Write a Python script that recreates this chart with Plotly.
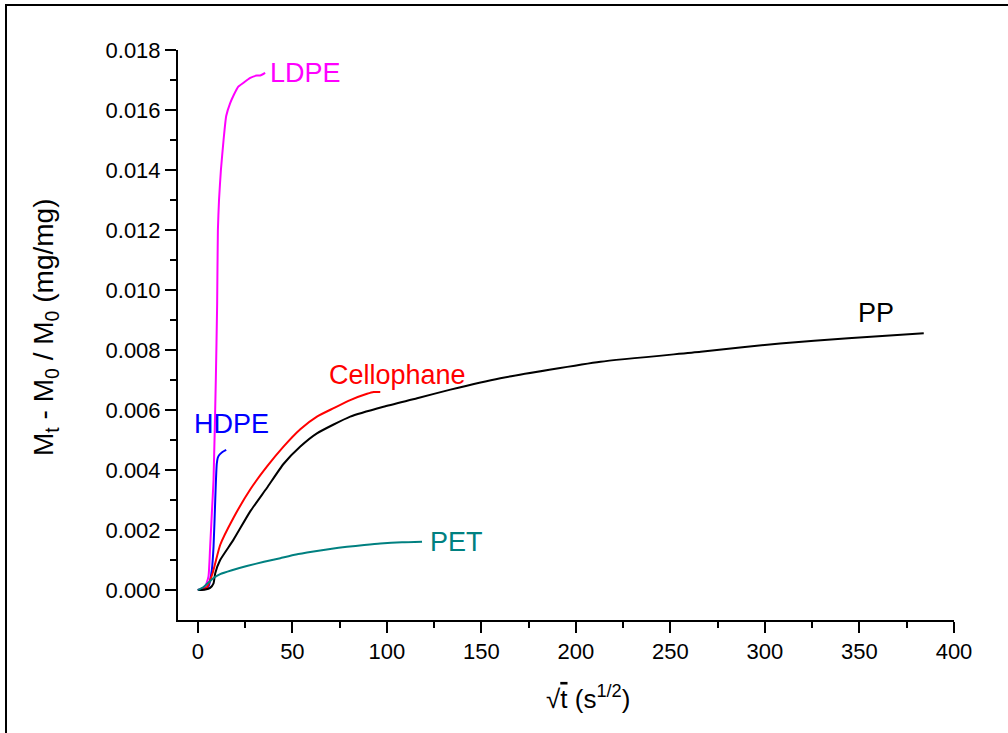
import plotly.graph_objects as go

# ---- data ----
ldpe_x = [0, 2, 3.9, 5.6, 6.5, 7.4, 8.3, 9.5, 10.2, 10.6, 11.2, 12.2, 13.6, 15, 17.1, 19, 21.3, 24, 27.7, 31.2, 33, 35.6]
ldpe_y = [0, 0.00003, 0.00011, 0.00044, 0.00144, 0.00256, 0.00367, 0.0070, 0.0095, 0.0120, 0.0130, 0.0140, 0.0150, 0.0158, 0.01623, 0.0165, 0.01677, 0.0169, 0.01707, 0.01715, 0.01715, 0.01724]

hdpe_x = [0, 3, 5.6, 7.4, 8.3, 9.2, 9.6, 10, 10.5, 11.3, 13, 15]
hdpe_y = [0, 0.00003, 0.00011, 0.00067, 0.00144, 0.0030, 0.0037, 0.0042, 0.0044, 0.0045, 0.0046, 0.00467]

cello_x = [0, 3, 5, 6.5, 8, 9.2, 11.8, 18.8, 27.7, 36.5, 45.3, 54.2, 63, 71.8, 80.6, 89.5, 93, 96.5]
cello_y = [0, 0.00003, 0.0001, 0.00033, 0.0006, 0.00089, 0.0015, 0.0024, 0.00335, 0.00411, 0.00478, 0.00536, 0.00578, 0.00606, 0.00633, 0.00654, 0.0066, 0.0066]

pp_x = [0, 4, 6.5, 8.3, 9.2, 11.8, 18.8, 27.7, 36.5, 45.3, 54.2, 63, 80.6, 98.2, 116, 133.6, 160, 213, 266, 308, 344, 384]
pp_y = [0, 0.00002, 0.00007, 0.00022, 0.00056, 0.0010, 0.00167, 0.00262, 0.0034, 0.0042, 0.00478, 0.00522, 0.00578, 0.00611, 0.00639, 0.00668, 0.00706, 0.00761, 0.00794, 0.00822, 0.00839, 0.00856]

pet_x = [0, 3, 6.5, 8.3, 11.8, 18, 25.9, 35, 43.6, 52, 61.2, 70, 78.9, 88, 96.5, 108, 118.6]
pet_y = [0, 0.0001, 0.0003, 0.0004, 0.00053, 0.00066, 0.0008, 0.00094, 0.00106, 0.00118, 0.00128, 0.00137, 0.00144, 0.0015, 0.00155, 0.00159, 0.00161]

labels = ["LDPE", "HDPE", "Cellophane", "PP", "PET"]
label_x = [57, 17.7, 105.6, 359, 136.8]
label_y = [0.01723, 0.00553, 0.00717, 0.00923, 0.0016]

x_ticks = [0, 50, 100, 150, 200, 250, 300, 350, 400]
y_ticks = [0.000, 0.002, 0.004, 0.006, 0.008, 0.010, 0.012, 0.014, 0.016, 0.018]

FONT = "Liberation Sans, Arial, sans-serif"
series = [
    (ldpe_x, ldpe_y, "#FF00FF"),
    (hdpe_x, hdpe_y, "#0000FF"),
    (cello_x, cello_y, "#FF0000"),
    (pp_x, pp_y, "#000000"),
    (pet_x, pet_y, "#008080"),
]

fig = go.Figure()
for (xs, ys, c), name in zip(series, labels):
    fig.add_trace(go.Scatter(x=xs, y=ys, mode="lines", name=name,
                             line=dict(color=c, width=2, shape="spline", smoothing=0.5),
                             showlegend=False, hoverinfo="skip"))

for (xs, ys, c), name, lx, ly in zip(series, labels, label_x, label_y):
    fig.add_annotation(x=lx, y=ly, text=name, showarrow=False,
                       font=dict(family=FONT, size=27, color=c),
                       xanchor="center", yanchor="middle")

fig.update_xaxes(range=[-10.5, 400], tickvals=x_ticks, ticktext=[str(v) for v in x_ticks],
                 showgrid=False, zeroline=False, showline=True, linecolor="black", linewidth=2,
                 ticks="outside", ticklen=11, tickwidth=2, tickcolor="black",
                 tickfont=dict(family=FONT, size=22, color="black"),
                 minor=dict(tickvals=list(range(25, 400, 50)), ticks="outside", ticklen=6,
                            tickwidth=2, tickcolor="black"))
fig.update_yaxes(range=[-0.001, 0.018], tickvals=y_ticks, ticktext=[f"{v:.3f}" for v in y_ticks],
                 showgrid=False, zeroline=False, showline=True, linecolor="black", linewidth=2,
                 ticks="outside", ticklen=11, tickwidth=2, tickcolor="black",
                 tickfont=dict(family=FONT, size=22, color="black"),
                 minor=dict(tickvals=[0.001 + 0.002 * i for i in range(9)], ticks="outside",
                            ticklen=6, tickwidth=2, tickcolor="black"))

# axis titles
fig.add_annotation(xref="paper", yref="paper", x=(588 - 178) / 776, y=(620 - 697) / 570,
                   text="√<span style='text-decoration:overline'>t</span> (s<sup>1/2</sup>)",
                   showarrow=False, font=dict(family=FONT, size=26, color="black"),
                   xanchor="center", yanchor="middle")
fig.add_annotation(xref="paper", yref="paper", x=(45 - 178) / 776, y=(620 - 328) / 570,
                   text="M<sub>t</sub> - M<sub>0</sub> / M<sub>0</sub> (mg/mg)", textangle=-90,
                   showarrow=False, font=dict(family=FONT, size=28, color="black"),
                   xanchor="center", yanchor="middle")

# outer frame
fig.add_shape(type="rect", xref="paper", yref="paper",
              x0=(6 - 178) / 776, x1=(1015 - 178) / 776,
              y0=(620 - 745) / 570, y1=(620 - 5) / 570,
              line=dict(color="black", width=2), fillcolor="rgba(0,0,0,0)")

fig.update_layout(width=1008, height=733, margin=dict(l=178, r=54, t=50, b=113),
                  paper_bgcolor="white", plot_bgcolor="white",
                  font=dict(family=FONT, color="black"))

fig.write_html("out.html")
